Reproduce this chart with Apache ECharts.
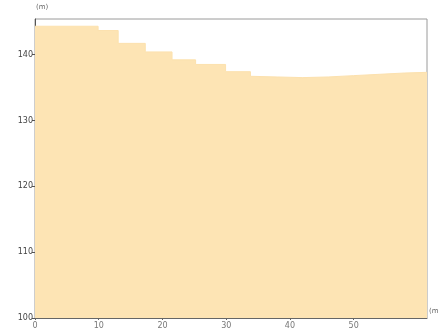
<!DOCTYPE html>
<html><head><meta charset="utf-8">
<script src="https://cdn.jsdelivr.net/npm/echarts@6/dist/echarts.min.js"></script>
<style>html,body{margin:0;padding:0;background:#fff}#c{width:438px;height:336px}</style>
</head><body><div id="c"></div>
<script>
// distance along the profile (m)
var distance = [0, 9.9, 9.9, 13.05, 13.05, 17.3, 17.3, 21.5, 21.5, 25.2, 25.2, 29.9, 29.9, 33.8, 33.8, 38, 42, 46, 50, 54, 58, 61.5];
// elevation (m)
var elevation = [144.3, 144.3, 143.65, 143.65, 141.7, 141.7, 140.4, 140.4, 139.2, 139.2, 138.5, 138.5, 137.4, 137.4, 136.7, 136.6, 136.5, 136.6, 136.8, 137.0, 137.2, 137.3];
var xTicks = [0, 10, 20, 30, 40, 50];
var yTicks = [100, 110, 120, 130, 140];
var yUnit = '(m)';
var xUnit = '(m)';

var pts = distance.map(function(d, i){ return [d, elevation[i]]; });
var chart = echarts.init(document.getElementById('c'));
chart.setOption({
  animation: false,
  backgroundColor: '#ffffff',
  grid: {left: 35, right: 11, top: 19, bottom: 18, show: true, borderColor: '#9a9a9a', borderWidth: 1, backgroundColor: 'transparent'},
  xAxis: {
    type: 'value', min: 0, max: 61.5, interval: 10,
    axisLine: {show: true, lineStyle: {color: '#666', width: 1}},
    axisTick: {show: true, length: 2, customValues: xTicks, lineStyle: {color: '#666'}},
    axisLabel: {color: '#777', fontSize: 8, fontFamily: 'DejaVu Sans', margin: 4, customValues: xTicks},
    splitLine: {show: false}
  },
  yAxis: {
    type: 'value', min: 100, max: 145.4, interval: 10,
    axisLine: {show: true, lineStyle: {color: '#555', width: 1}},
    axisTick: {show: true, length: 3, customValues: yTicks, lineStyle: {color: '#555'}},
    axisLabel: {color: '#444', fontSize: 8, fontFamily: 'DejaVu Sans', margin: 2, customValues: yTicks},
    splitLine: {show: false}
  },
  graphic: [
    {type: 'text', left: 36, top: 4, style: {text: yUnit, fontSize: 7, fill: '#666', fontFamily: 'DejaVu Sans'}},
    {type: 'text', left: 429, top: 308, style: {text: xUnit, fontSize: 7, fill: '#666', fontFamily: 'DejaVu Sans'}}
  ],
  series: [{
    type: 'line', data: pts, symbol: 'none',
    lineStyle: {width: 1, color: '#fce1ae'},
    areaStyle: {color: '#fde4b4', opacity: 1, origin: 'start'},
    z: 1
  }]
});
</script></body></html>
